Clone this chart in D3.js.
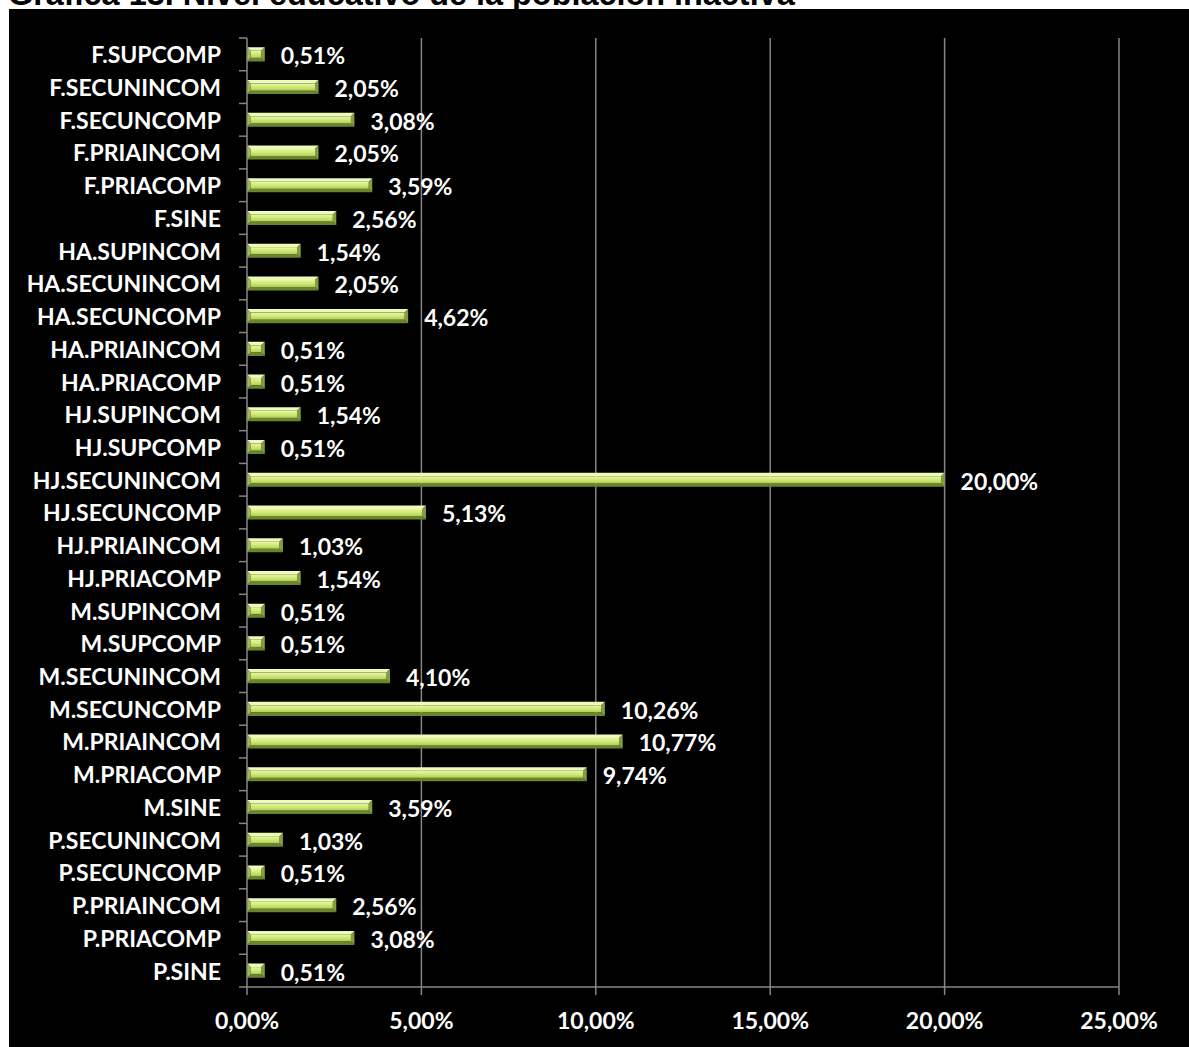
<!DOCTYPE html>
<html>
<head>
<meta charset="utf-8">
<script src="https://cdn.jsdelivr.net/npm/d3@7"></script>
<style>
  body { margin: 0; background: #fff; }
  svg { display: block; }
</style>
</head>
<body>
<svg id="mainsvg" width="1189" height="1047"></svg>
<script>
// categories from top to bottom, as in the picture
const categories = [
  'F.SUPCOMP', 'F.SECUNINCOM', 'F.SECUNCOMP', 'F.PRIAINCOM', 'F.PRIACOMP', 'F.SINE',
  'HA.SUPINCOM', 'HA.SECUNINCOM', 'HA.SECUNCOMP', 'HA.PRIAINCOM', 'HA.PRIACOMP',
  'HJ.SUPINCOM', 'HJ.SUPCOMP', 'HJ.SECUNINCOM', 'HJ.SECUNCOMP', 'HJ.PRIAINCOM', 'HJ.PRIACOMP',
  'M.SUPINCOM', 'M.SUPCOMP', 'M.SECUNINCOM', 'M.SECUNCOMP', 'M.PRIAINCOM', 'M.PRIACOMP', 'M.SINE',
  'P.SECUNINCOM', 'P.SECUNCOMP', 'P.PRIAINCOM', 'P.PRIACOMP', 'P.SINE'
];
const values = [
  0.51, 2.05, 3.08, 2.05, 3.59, 2.56,
  1.54, 2.05, 4.62, 0.51, 0.51,
  1.54, 0.51, 20.00, 5.13, 1.03, 1.54,
  0.51, 0.51, 4.10, 10.26, 10.77, 9.74, 3.59,
  1.03, 0.51, 2.56, 3.08, 0.51
];
const xTicks = [0, 5, 10, 15, 20, 25];
const title = 'Gráfica 13. Nivel educativo de la población inactiva';

let svg = d3.select('#mainsvg');
const fmt = v => d3.format('.2f')(v).replace('.', ',') + '%';
const font = 'Lato, "Open Sans", sans-serif';
const fs = 23;

// title (cut off at the top in the original)
let t = svg.append('text')
  .attr('x', 8).attr('y', 5)
  .attr('font-family', 'Liberation Sans, Arial, sans-serif')
  .attr('font-weight', 'bold')
  .attr('font-size', 26)
  .attr('fill', '#000')
  .text(title);
let tw = t.node().getComputedTextLength();
t.attr('font-size', 26 * 787 / tw);

// black panel
svg.append('rect')
  .attr('x', 9).attr('y', 9)
  .attr('width', 1180).attr('height', 1038)
  .attr('fill', '#000');

const x = d3.scaleLinear().domain([0, 25]).range([247, 1119]);
const y = d3.scaleBand().domain(categories).range([38, 987]).paddingInner(0.57).paddingOuter(0.285);
const yb = d3.scaleBand().domain(categories).range([38, 987]);

// gridlines
svg.append('g').selectAll('line').data(xTicks.slice(1)).enter().append('line')
  .attr('x1', d => x(d)).attr('x2', d => x(d))
  .attr('y1', 38).attr('y2', 987)
  .attr('stroke', '#868686').attr('stroke-width', 1.5);

// bevel gradient
const defs = svg.append('defs');
const grad = defs.append('linearGradient').attr('id', 'face')
  .attr('x1', 0).attr('y1', 0).attr('x2', 0).attr('y2', 1);
grad.append('stop').attr('offset', '0%').attr('stop-color', '#e8f8a4');
grad.append('stop').attr('offset', '45%').attr('stop-color', '#d2ea7a');
grad.append('stop').attr('offset', '100%').attr('stop-color', '#b2ce58');

// bars
const data = categories.map((c, i) => ({cat: c, val: values[i]}));
const bars = svg.append('g').selectAll('g').data(data).enter().append('g')
  .attr('transform', d => `translate(${x(0)},${y(d.cat)})`);
const h = y.bandwidth(), b = 3.5;
bars.each(function(d) {
  const g = d3.select(this);
  const w = x(d.val) - x(0);
  g.append('polygon').attr('points', `0,0 ${w},0 ${w-b},${b} ${b},${b}`).attr('fill', '#eefbb8');
  g.append('polygon').attr('points', `0,${h} ${w},${h} ${w-b},${h-b} ${b},${h-b}`).attr('fill', '#6a862c');
  g.append('polygon').attr('points', `0,0 ${b},${b} ${b},${h-b} 0,${h}`).attr('fill', '#9fba4c');
  g.append('polygon').attr('points', `${w},0 ${w-b},${b} ${w-b},${h-b} ${w},${h}`).attr('fill', '#85a03a');
  g.append('rect').attr('x', b).attr('y', b).attr('width', Math.max(0, w - 2*b)).attr('height', h - 2*b)
    .attr('fill', 'url(#face)');
});

// value labels
svg.append('g').selectAll('text').data(data).enter().append('text')
  .attr('x', d => x(d.val) + 16)
  .attr('y', d => y(d.cat) + h / 2 + 4)
  .attr('dominant-baseline', 'middle')
  .attr('font-family', font).attr('font-weight', 'bold').attr('font-size', fs)
  .attr('fill', '#fff')
  .text(d => fmt(d.val));

// y axis
let yAxis = svg.append('g');
yAxis.append('line').attr('x1', 247).attr('x2', 247).attr('y1', 38).attr('y2', 987)
  .attr('stroke', '#868686').attr('stroke-width', 1.5);
yAxis.selectAll('line.tk').data(categories).enter().append('line').attr('class', 'tk')
  .attr('x1', 239).attr('x2', 247)
  .attr('y1', d => yb(d)).attr('y2', d => yb(d))
  .attr('stroke', '#868686').attr('stroke-width', 1.5);
yAxis.selectAll('text').data(categories).enter().append('text')
  .attr('x', 221)
  .attr('y', d => yb(d) + yb.bandwidth() / 2 + 3)
  .attr('text-anchor', 'end')
  .attr('dominant-baseline', 'middle')
  .attr('font-family', font).attr('font-weight', 'bold').attr('font-size', fs)
  .attr('fill', '#fff')
  .text(d => d);

// x axis
let xAxis = svg.append('g');
xAxis.append('line').attr('x1', 239).attr('x2', 1119).attr('y1', 987).attr('y2', 987)
  .attr('stroke', '#868686').attr('stroke-width', 1.5);
xAxis.selectAll('line.tk').data(xTicks).enter().append('line').attr('class', 'tk')
  .attr('x1', d => x(d)).attr('x2', d => x(d))
  .attr('y1', 987).attr('y2', 995)
  .attr('stroke', '#868686').attr('stroke-width', 1.5);
xAxis.selectAll('text').data(xTicks).enter().append('text')
  .attr('x', d => x(d))
  .attr('y', 1023)
  .attr('text-anchor', 'middle')
  .attr('dominant-baseline', 'middle')
  .attr('font-family', font).attr('font-weight', 'bold').attr('font-size', fs)
  .attr('fill', '#fff')
  .text(d => fmt(d));
</script>
</body>
</html>
